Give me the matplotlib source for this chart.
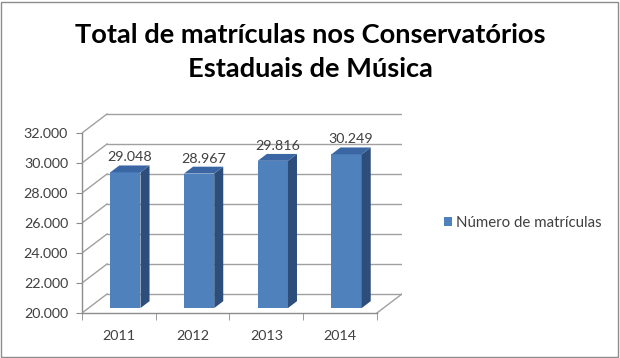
import numpy as np
import matplotlib.pyplot as plt
from matplotlib.patches import Polygon, Rectangle
from matplotlib.ticker import FuncFormatter

anos = ['2011', '2012', '2013', '2014']
matriculas = [29048, 28967, 29816, 30249]
y_ticks = [20000, 22000, 24000, 26000, 28000, 30000, 32000]

titulo = ['Total de matrículas nos Conservatórios', 'Estaduais de Música']
serie = 'Número de matrículas'

plt.rcParams['font.family'] = 'Lato'

# fake 3D depth, in data units
wall_dx, wall_dy = 0.34, 1270
bar_f0, bar_depth = 0.26, 0.36   # where the bar starts / how deep, as fraction of wall depth
bar_w = 0.41
y_min, y_max = 20000, 32000

c_front = '#4F81BD'
c_side = '#2D4E7B'
c_top = '#3A66A4'
c_grid = '#a0a0a0'
c_axis = '#8c8c8c'
c_text = '#404040'


def fmt_milhar(v, pos=None):
    return f'{int(v):,}'.replace(',', '.')


fig = plt.figure(figsize=(6.2, 3.58), dpi=100)
ax = fig.add_axes([82/620, 45/358, 320/620, 201/358])

x = np.arange(len(anos))
ax.set_xlim(-0.5, len(anos) - 0.5 + wall_dx)
ax.set_ylim(y_min, 33400)

# back wall gridlines + side wall diagonals
x0, x1 = -0.5, len(anos) - 0.5
for v in y_ticks:
    ax.plot([x0, x0 + wall_dx], [v, v + wall_dy], color=c_grid, lw=1.0, zorder=1)
    ax.plot([x0 + wall_dx, x1 + wall_dx], [v + wall_dy, v + wall_dy], color=c_grid, lw=1.0, zorder=1)
# floor right edge
ax.plot([x1, x1 + wall_dx], [y_min, y_min + wall_dy], color=c_grid, lw=1.0, zorder=1)

# bars
fx, fy = bar_f0 * wall_dx, bar_f0 * wall_dy
bdx, bdy = bar_depth * wall_dx, bar_depth * wall_dy
vals = np.array(matriculas)
bars = ax.bar(x + fx, vals - y_min, bottom=y_min + fy, width=bar_w,
              color=c_front, label=serie, zorder=3)

for xi, v in zip(x, vals):
    left = xi + fx - bar_w / 2
    right = xi + fx + bar_w / 2
    base = y_min + fy
    topv = v + fy
    side = Polygon([(right, base), (right + bdx, base + bdy),
                    (right + bdx, topv + bdy), (right, topv)],
                   closed=True, fc=c_side, ec='none', zorder=3)
    top = Polygon([(left, topv), (right, topv),
                   (right + bdx, topv + bdy), (left + bdx, topv + bdy)],
                  closed=True, fc=c_top, ec='none', zorder=3)
    ax.add_patch(side)
    ax.add_patch(top)
    ax.annotate(fmt_milhar(v), (xi + fx + bdx / 2, topv + bdy),
                xytext=(0, 3), textcoords='offset points',
                ha='center', va='baseline', fontsize=10.3, color=c_text, zorder=4)

# axes
for s in ['top', 'right']:
    ax.spines[s].set_visible(False)
ax.spines['left'].set_bounds(y_min, y_max)
ax.spines['bottom'].set_bounds(x0, x1)
for s in ['left', 'bottom']:
    ax.spines[s].set_color(c_axis)
    ax.spines[s].set_linewidth(1.0)

ax.set_yticks(y_ticks)
ax.yaxis.set_major_formatter(FuncFormatter(fmt_milhar))
ax.tick_params(axis='y', length=4, color=c_axis, labelsize=10.3, labelcolor=c_text, pad=6)

ax.set_xticks(x)
ax.set_xticklabels(anos)
ax.set_xticks(np.arange(len(anos) + 1) - 0.5, minor=True)
ax.tick_params(axis='x', which='major', length=0, pad=12, labelsize=10.3, labelcolor=c_text)
ax.tick_params(axis='x', which='minor', length=5, color=c_axis)

# title
fig.text(0.5, 1 - 43/358, titulo[0], ha='center', va='baseline',
         fontsize=19.6, fontweight='bold', color='black')
fig.text(0.5, 1 - 77/358, titulo[1], ha='center', va='baseline',
         fontsize=19.6, fontweight='bold', color='black')

# legend
fig.legend(handles=[bars], labels=[serie], loc='center left',
           bbox_to_anchor=(430/620, 1 - 223/358), frameon=False,
           handlelength=0.55, handleheight=0.55, handletextpad=0.3,
           fontsize=10.8, labelcolor=c_text)

# outer border
fig.patches.append(Rectangle((1/620, 1/358), 617/620, 355/358, transform=fig.transFigure,
                             fill=False, ec=c_axis, lw=1.0))

fig.savefig('out.png', dpi=100)
